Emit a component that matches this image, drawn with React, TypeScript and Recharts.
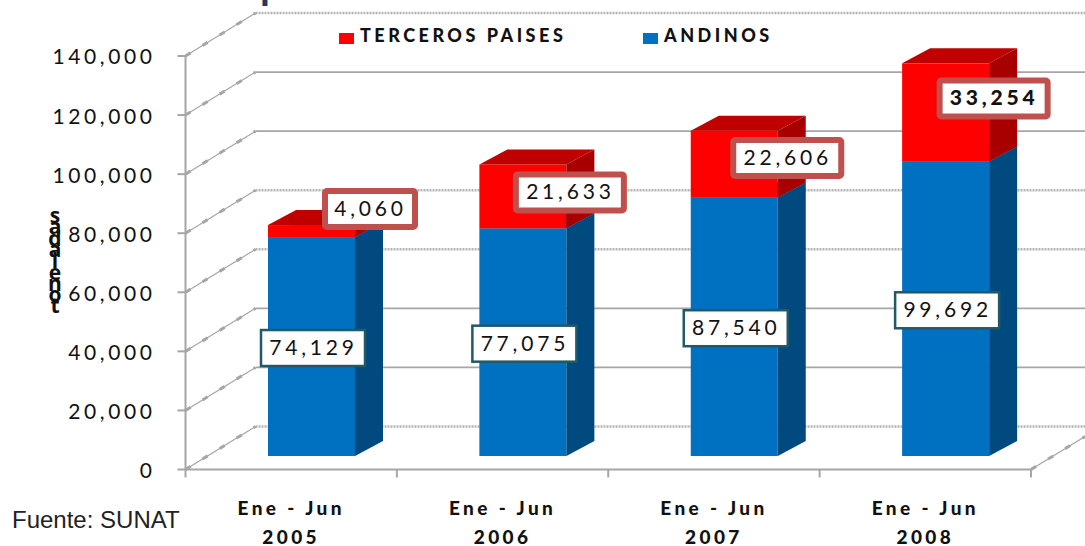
import { Bar, BarChart, CartesianGrid, LabelList, Legend, XAxis, YAxis } from "recharts";

const periods = ["Ene - Jun", "Ene - Jun", "Ene - Jun", "Ene - Jun"];
const years = ["2005", "2006", "2007", "2008"];
const andinos = [74129, 77075, 87540, 99692];
const terceros = [4060, 21633, 22606, 33254];
const yTicks = [0, 20000, 40000, 60000, 80000, 100000, 120000, 140000];
const axisLetters = ["s", "a", "d", "a", "l", "e", "n", "o", "t"];

const data = years.map((year, i) => ({
  year,
  period: periods[i],
  andinos: andinos[i],
  terceros: terceros[i],
}));

const W = 1085;
const H = 546;
const FONT = "Lato, Carlito, sans-serif";
const GRAY = "#a6a6a6";

// the bars stand forward of the back wall, excel 3d style
const WALL_DX = 70;
const WALL_DY = -43;
const BAR_DX = 20.5;
const BAR_DY = -13.5;
const SIDE_DX = 28;
const SIDE_DY = -15;

const BLUE = { front: "#0070c0", top: "#005a9c", side: "#004a80" };
const RED = { front: "#ff0000", top: "#c00000", side: "#a80000" };

// grid rows that came out dithered in the source picture
const ditheredRows = [0, 3, 4, 7];
// nudges of the red callouts from the centre of their segment
const redNudge = [
  [58.5, -22],
  [47, -4],
  [53, -6],
  [48, -14],
];

function Box3D({ x, y, width, height, colors }: any) {
  const l = x + BAR_DX;
  const r = l + width;
  const t = y + BAR_DY;
  const b = t + height;
  return (
    <g>
      <rect x={l} y={t} width={width} height={height} fill={colors.front} />
      <polygon
        points={`${l},${t} ${r},${t} ${r + SIDE_DX},${t + SIDE_DY} ${l + SIDE_DX},${t + SIDE_DY}`}
        fill={colors.top}
      />
      <polygon
        points={`${r},${t} ${r + SIDE_DX},${t + SIDE_DY} ${r + SIDE_DX},${b + SIDE_DY} ${r},${b}`}
        fill={colors.side}
      />
    </g>
  );
}

function BlueLabel({ x, y, width, height, value }: any) {
  const cx = x + BAR_DX + width / 2 + 1.5;
  const cy = y + BAR_DY + height / 2 + 1.5;
  return (
    <g>
      <rect x={cx - 52} y={cy - 18} width={104} height={36} fill="#fff" stroke="#215968" strokeWidth={2.5} />
      <text x={cx + 0.5} y={cy + 7} textAnchor="middle" fontFamily={FONT} fontSize={21} letterSpacing={3.8} fill="#111">
        {value.toLocaleString("en-US")}
      </text>
    </g>
  );
}

function RedLabel({ x, y, width, height, value, index }: any) {
  const cx = x + BAR_DX + width / 2 + redNudge[index][0];
  const cy = y + BAR_DY + height / 2 + redNudge[index][1];
  const bw = index === 0 ? 90 : 108;
  return (
    <g>
      <rect x={cx - bw / 2} y={cy - 18} width={bw} height={36} rx={2} fill="#fff" stroke="#c0504d" strokeWidth={6} />
      <text
        x={cx + 0.5}
        y={cy + 7}
        textAnchor="middle"
        fontFamily={FONT}
        fontSize={21}
        fontWeight={index === 3 ? 900 : 400}
        letterSpacing={3.8}
        fill="#111"
      >
        {value.toLocaleString("en-US")}
      </text>
    </g>
  );
}

function WallLine({ x1, y1, index }: any) {
  const bx = x1 + WALL_DX;
  const by = y1 + WALL_DY;
  const dithered = ditheredRows.includes(index);
  return (
    <g key={`wall-${index}`}>
      <line
        x1={bx}
        y1={by}
        x2={W}
        y2={by}
        stroke={dithered ? "#b4b4b4" : GRAY}
        strokeWidth={dithered ? 2.5 : 1.8}
        strokeDasharray={dithered ? "2 1" : undefined}
      />
      <line x1={x1} y1={y1} x2={bx} y2={by} stroke={GRAY} strokeWidth={1.2} />
      <line x1={x1} y1={y1} x2={bx} y2={by} stroke={GRAY} strokeWidth={3} strokeDasharray="6 14" />
    </g>
  );
}

function CategoryTick({ x, y, index, payload }: any) {
  const band = 845.5 / years.length;
  const row = data[payload?.index ?? index];
  const left = x - band / 2;
  const last = index === years.length - 1;
  return (
    <g>
      <line x1={left} y1={y - 8} x2={left} y2={y} stroke={GRAY} strokeWidth={2} />
      {last && <line x1={left + band} y1={y - 8} x2={left + band} y2={y} stroke={GRAY} strokeWidth={2} />}
      {last && (
        <>
          <line x1={left + band} y1={y - 8} x2={W} y2={y - 8 - 33} stroke={GRAY} strokeWidth={1.2} />
          <line x1={left + band} y1={y - 8} x2={W} y2={y - 8 - 33} stroke={GRAY} strokeWidth={3} strokeDasharray="6 14" />
        </>
      )}
      <text x={x} textAnchor="middle" fontFamily={FONT} fontWeight={900} fontSize={19} letterSpacing={3.4} fill="#111">
        <tspan x={x} y={y + 37}>
          {row.period}
        </tspan>
        <tspan x={x} y={y + 66}>
          {row.year}
        </tspan>
      </text>
    </g>
  );
}

function SeriesLegend({ payload }: any) {
  const items = [...(payload ?? [])].reverse();
  const xs = [339, 643];
  return (
    <div style={{ position: "relative", width: W, height: 0 }}>
      {items.map((item: any, i: number) => (
        <div key={item.value} style={{ position: "absolute", left: xs[i], top: 24, display: "flex", alignItems: "center" }}>
          <span style={{ width: 15, height: 11, background: item.color, marginRight: 6, marginTop: 6 }} />
          <span
            style={{ fontFamily: FONT, fontWeight: 900, fontSize: 18, letterSpacing: 3.5, color: "#111", whiteSpace: "nowrap", lineHeight: "22px" }}
          >
            {item.value}
          </span>
        </div>
      ))}
    </div>
  );
}

export default function App() {
  return (
    <div style={{ position: "absolute", left: 0, top: 0, width: W, height: H, overflow: "hidden", background: "#fff" }}>
      <BarChart
        width={W}
        height={H}
        data={data}
        barSize={87}
        margin={{ top: 56, right: 54, bottom: 0, left: 0 }}
      >
        <text x={260} y={-1} fontFamily={FONT} fontWeight={700} fontSize={40} fill="#1f3864">
          p
        </text>
        <CartesianGrid vertical={false} horizontal={(p: any) => <WallLine {...p} />} />
        <XAxis dataKey="year" interval={0} height={76.5} axisLine={{ stroke: GRAY, strokeWidth: 2 }} tickLine={false} tick={(p: any) => <CategoryTick {...p} />} tickSize={8} tickMargin={0} />
        <YAxis
          width={185.5}
          domain={[0, 140000]}
          ticks={yTicks}
          interval={0}
          tickFormatter={(v: number) => v.toLocaleString("en-US")}
          tick={{ fontFamily: FONT, fontSize: 21, letterSpacing: 3.6, fill: "#111", dy: 1 }}
          tickSize={8}
          tickMargin={22}
          tickLine={{ stroke: GRAY, strokeWidth: 2 }}
          axisLine={{ stroke: GRAY, strokeWidth: 2 }}
          label={{
            content: () => (
              <g>
                {axisLetters.map((c, i) => (
                  <text key={i} x={55} y={223 + i * 11.3} textAnchor="middle" fontFamily="Open Sans, sans-serif" fontWeight={700} fontSize={21} fill="#111">
                    {c}
                  </text>
                ))}
              </g>
            ),
          }}
        />
        <Legend verticalAlign="top" wrapperStyle={{ position: "absolute", left: 0, top: 0 }} content={(p: any) => <SeriesLegend {...p} />} />
        <Bar
          dataKey="andinos"
          name="ANDINOS"
          stackId="a"
          fill={BLUE.front}
          isAnimationActive={false}
          shape={(p: any) => <Box3D {...p} colors={BLUE} />}
        >
          <LabelList dataKey="andinos" content={(p: any) => <BlueLabel {...p} />} />
        </Bar>
        <Bar
          dataKey="terceros"
          name="TERCEROS PAISES"
          stackId="a"
          fill={RED.front}
          isAnimationActive={false}
          shape={(p: any) => <Box3D {...p} colors={RED} />}
        >
          <LabelList dataKey="terceros" content={(p: any) => <RedLabel {...p} />} />
        </Bar>
        <text x={12} y={528} fontFamily="Liberation Sans, Arial, sans-serif" fontSize={24} fill="#222">
          Fuente: SUNAT
        </text>
      </BarChart>
    </div>
  );
}
